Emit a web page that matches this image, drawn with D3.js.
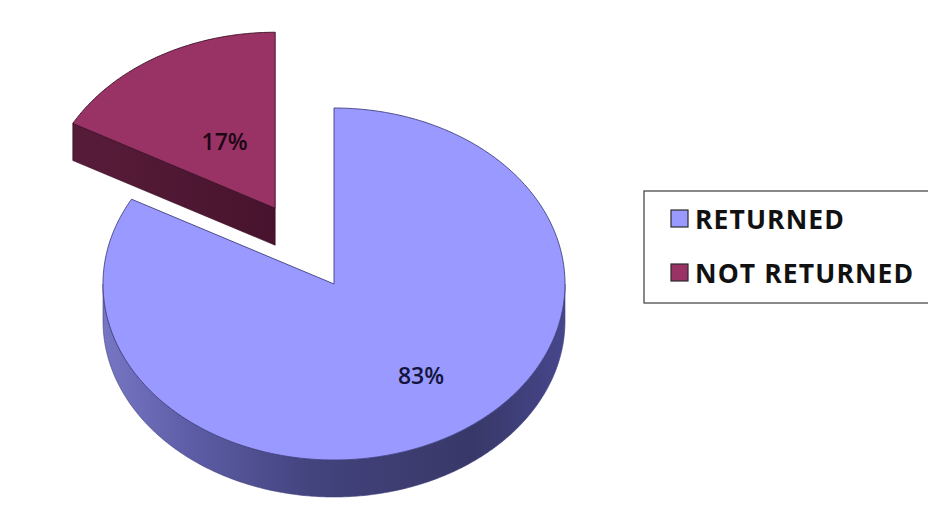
<!DOCTYPE html>
<html>
<head>
<meta charset="utf-8">
<script src="https://cdn.jsdelivr.net/npm/d3@7"></script>
<style>
  html, body { margin: 0; padding: 0; background: #fff; }
  svg { display: block; }
</style>
</head>
<body>
<svg id="chart" width="928" height="518"></svg>
<script>
// Survey responses
const categories = ["RETURNED", "NOT RETURNED"];
const values = [83, 17];
const labels = ["83%", "17%"];
const topColors = ["#9999FF", "#993366"];
const edgeColors = ["#3f3f7e", "#3a0f24"];
const labelColors = ["#14143c", "#1e0714"];

const svg = d3.select("#chart");

// 3D pie geometry
const cx = 334, cy = 284, rx = 231, ry = 176, depth = 37;
const explode = [0, 0.5];                    // pulled-out fraction of the radius
const labelRadius = [[0.74, 0.61], [0.43, 0.44]]; // label distance along the mid angle (x, y)

const pie = d3.pie().sort(null).value(d => d)(values);

// angle measured clockwise from 12 o'clock, z is the drop of the rim
const proj = (a, z, off) => [cx + off[0] + rx * Math.sin(a), cy + off[1] - ry * Math.cos(a) + z];
const line = d3.line();
const arcPts = (a0, a1, z, off) => {
  const n = Math.max(2, Math.ceil((a1 - a0) / 0.01));
  return d3.range(n + 1).map(i => proj(a0 + (a1 - a0) * i / n, z, off));
};

const defs = svg.append("defs");
const blueSide = defs.append("linearGradient").attr("id", "side0")
  .attr("gradientUnits", "userSpaceOnUse")
  .attr("x1", cx - rx).attr("x2", cx + rx).attr("y1", 0).attr("y2", 0);
[["0%", "#7676c4"], ["18%", "#5e5ea8"], ["45%", "#43437e"], ["80%", "#383868"], ["100%", "#46468c"]]
  .forEach(([o, c]) => blueSide.append("stop").attr("offset", o).attr("stop-color", c));
const redSide = defs.append("linearGradient").attr("id", "side1")
  .attr("gradientUnits", "userSpaceOnUse")
  .attr("x1", cx - rx).attr("x2", cx).attr("y1", 0).attr("y2", 0);
[["0%", "#561b38"], ["100%", "#42102a"]]
  .forEach(([o, c]) => redSide.append("stop").attr("offset", o).attr("stop-color", c));

// draw the back (exploded) slice first
const order = [1, 0];
order.forEach(i => {
  const d = pie[i];
  const mid = (d.startAngle + d.endAngle) / 2;
  const off = [rx * explode[i] * Math.sin(mid), -ry * explode[i] * Math.cos(mid)];
  const c0 = [cx + off[0], cy + off[1]];
  const g = svg.append("g").attr("class", "slice");

  // cut faces facing the viewer
  [[d.startAngle, -1], [d.endAngle, 1]].forEach(([a, s]) => {
    if (s * Math.sin(a) > 1e-6) {
      const poly = [c0, proj(a, 0, off), proj(a, depth, off), [c0[0], c0[1] + depth]];
      g.append("path").attr("d", line(poly) + "Z")
        .attr("fill", `url(#side${i})`).attr("stroke", edgeColors[i]).attr("stroke-width", 0.6);
    }
  });

  // outer rim, front half only
  const s0 = Math.max(d.startAngle, Math.PI / 2), s1 = Math.min(d.endAngle, 3 * Math.PI / 2);
  if (s1 > s0) {
    const rim = arcPts(s0, s1, 0, off).concat(arcPts(s0, s1, depth, off).reverse());
    g.append("path").attr("d", line(rim) + "Z")
      .attr("fill", `url(#side${i})`).attr("stroke", edgeColors[i]).attr("stroke-width", 0.6);
  }

  // top surface
  const top = [c0].concat(arcPts(d.startAngle, d.endAngle, 0, off));
  g.append("path").attr("d", line(top) + "Z")
    .attr("fill", topColors[i]).attr("stroke", edgeColors[i]).attr("stroke-width", 0.9)
    .attr("stroke-linejoin", "round");

  // value label
  const lp = [c0[0] + rx * labelRadius[i][0] * Math.sin(mid), c0[1] - ry * labelRadius[i][1] * Math.cos(mid)];
  g.append("text").attr("x", lp[0]).attr("y", lp[1]).attr("dy", "0.35em")
    .attr("text-anchor", "middle")
    .attr("font-family", "'Open Sans', sans-serif").attr("font-weight", 600)
    .attr("font-size", 23).attr("fill", labelColors[i])
    .text(labels[i]);
});

// legend
const legend = svg.append("g").attr("class", "legend");
legend.append("rect").attr("x", 644).attr("y", 191).attr("width", 320).attr("height", 112)
  .attr("fill", "#fff").attr("stroke", "#4a4a4a").attr("stroke-width", 1.3);
const ly = d3.scalePoint().domain(categories).range([219, 273]);
categories.forEach((c, i) => {
  legend.append("rect").attr("x", 671).attr("y", ly(c) - 9).attr("width", 17).attr("height", 17)
    .attr("fill", topColors[i]).attr("stroke", "#2a2a2a").attr("stroke-width", 1.2);
  legend.append("text").attr("x", 695).attr("y", ly(c)).attr("dy", "0.36em")
    .attr("font-family", "'Open Sans', sans-serif").attr("font-weight", 700)
    .attr("font-size", 26.5).attr("letter-spacing", 1.1).attr("fill", "#111")
    .text(c);
});
</script>
</body>
</html>
